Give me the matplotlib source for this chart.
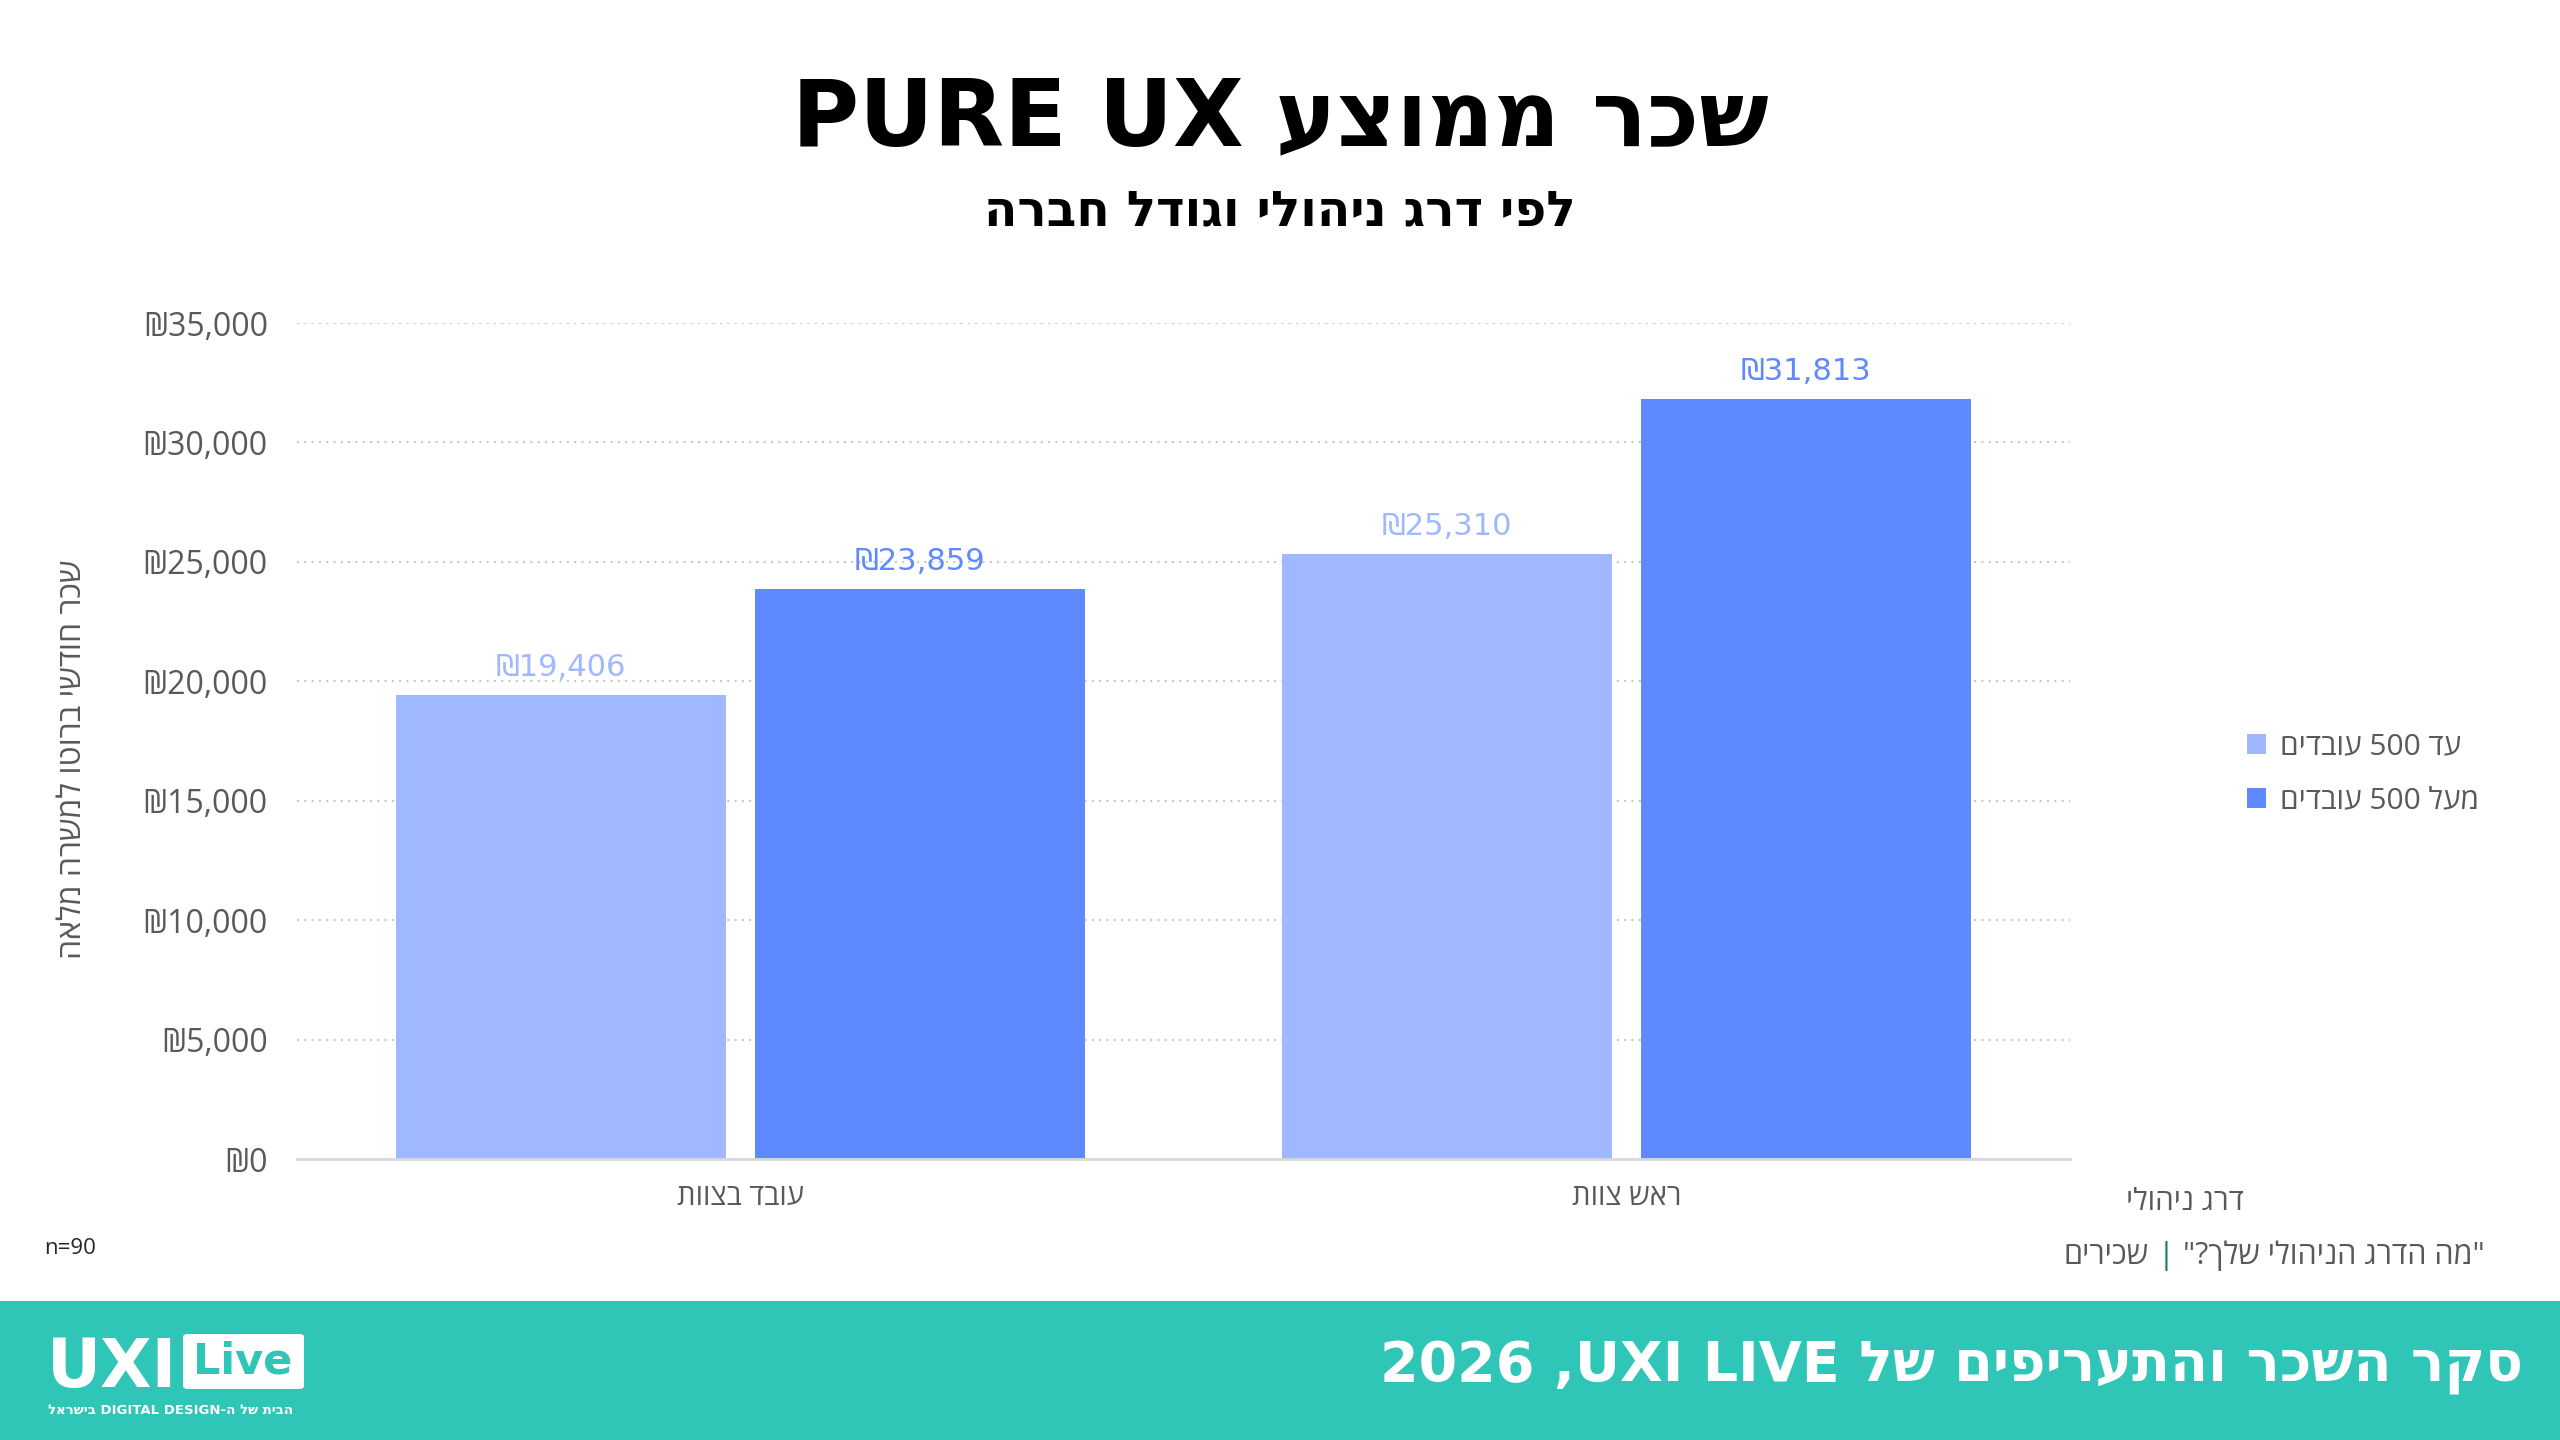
import re
import numpy as np
import matplotlib
matplotlib.use("Agg")
import matplotlib.pyplot as plt
from matplotlib.patches import Patch, FancyBboxPatch, Rectangle
from matplotlib.ticker import FuncFormatter, MultipleLocator

# ---------------- data ----------------
categories = ["עובד בצוות", "ראש צוות"]
series_names = ["עד 500 עובדים", "מעל 500 עובדים"]
small_company = [19406, 25310]
large_company = [23859, 31813]
y_max = 35000
y_step = 5000

title = "שכר ממוצע PURE UX"
subtitle = "לפי דרג ניהולי וגודל חברה"
y_label = "שכר חודשי ברוטו למשרה מלאה"
x_label = "דרג ניהולי"
question = "\"מה הדרג הניהולי שלך?\""
population = "שכירים"
n_text = "n=90"
footer_title = "סקר השכר והתעריפים של UXI LIVE, 2026"
logo_tag = "הבית של ה-DIGITAL DESIGN בישראל"

LIGHT = "#A0B8FF"
DARK = "#5F8AFF"
TEAL = "#2FC5B7"
GRAY = "#595959"

W, H = 2560, 1440


def vis(s):
    """Simple visual reordering of a right-to-left string (Hebrew) for matplotlib."""
    toks = re.findall(r"[A-Za-z0-9]+(?: [A-Za-z0-9]+)*|.", s)
    return "".join(reversed(toks))


FONT = ["Open Sans", "DejaVu Sans"]
NARROW = ["Liberation Sans Narrow", "DejaVu Sans"]
BOLD = ["DejaVu Sans"]
plt.rcParams["font.family"] = FONT

fig = plt.figure(figsize=(W / 100, H / 100), dpi=100)
fig.patch.set_facecolor("white")

ax = fig.add_axes([297 / W, 1 - 1159 / H, (2070 - 297) / W, (1159 - 323) / H])
x = np.arange(len(categories))
width = 0.372
off = 0.2025
b1 = ax.bar(x - off, small_company, width, color=LIGHT, zorder=3)
b2 = ax.bar(x + off, large_company, width, color=DARK, zorder=3)

ax.set_xlim(-0.5, len(categories) - 0.5)
ax.set_ylim(0, y_max)
ax.yaxis.set_major_locator(MultipleLocator(y_step))
ax.yaxis.set_major_formatter(FuncFormatter(lambda v, p: f"₪{v:,.0f}"))
ax.set_axisbelow(True)
ax.grid(axis="y", linestyle=(0, (1, 2.5)), color="#c8c8c8", linewidth=1.5, zorder=0)
for s in ["top", "right", "left"]:
    ax.spines[s].set_visible(False)
ax.spines["bottom"].set_color("#d9d9d9")
ax.spines["bottom"].set_linewidth(2)
ax.spines["bottom"].set_zorder(4)
ax.set_xticks(x, [vis(c) for c in categories])
ax.tick_params(axis="y", length=0, labelsize=23, labelcolor=GRAY, pad=21)
ax.tick_params(axis="x", length=0, labelsize=21, labelcolor=GRAY, pad=17)

for bars, col in ((b1, LIGHT), (b2, DARK)):
    for rect in bars:
        v = rect.get_height()
        ax.annotate(f"₪{v:,.0f}", (rect.get_x() + rect.get_width() / 2, v),
                    xytext=(0, 14), textcoords="offset points",
                    ha="center", va="baseline", color=col, fontsize=22,
                    family=NARROW)

# y label
fig.text(73 / W, 1 - 759 / H, vis(y_label), rotation=90, ha="center", va="center",
         fontsize=23, color=GRAY)

# titles
fig.text(0.5, 1 - 119 / H, vis(title), ha="center", va="center", fontsize=66,
         fontweight="bold", family=BOLD, color="black")
fig.text(0.5, 1 - 212 / H, vis(subtitle), ha="center", va="center", fontsize=35,
         fontweight="bold", family=BOLD, color="black")

# legend
handles = [Patch(facecolor=LIGHT, edgecolor="none"), Patch(facecolor=DARK, edgecolor="none")]
fig.legend(handles, [vis(s) for s in series_names], loc="center left",
           bbox_to_anchor=(2220 / W, 1 - 774 / H), frameon=False, fontsize=21.5,
           handlelength=0.65, handleheight=0.65, handletextpad=0.45, labelspacing=0.85,
           labelcolor=GRAY)

# x axis title and source line
fig.text(2185 / W, 1 - 1203 / H, vis(x_label), ha="center", va="center", fontsize=21.5,
         color=GRAY)

renderer = fig.canvas.get_renderer()
ysrc = 1 - 1256 / H
t1 = fig.text(2485 / W, ysrc, vis(question), ha="right", va="center", fontsize=22, color=GRAY)
bb = t1.get_window_extent(renderer)
t2 = fig.text((bb.x0 - 9) / W, ysrc, "|", ha="right", va="center", fontsize=22, color="#1F7A6E")
bb2 = t2.get_window_extent(renderer)
fig.text((bb2.x0 - 9) / W, ysrc, vis(population), ha="right", va="center", fontsize=22, color=GRAY)

fig.text(70 / W, 1 - 1248 / H, n_text, ha="center", va="center", fontsize=16, color="#262626")

# footer band
fig.add_artist(Rectangle((0, 0), 1, 139 / H, transform=fig.transFigure,
                         facecolor=TEAL, edgecolor="none", zorder=0))
fig.text(2523 / W, 1 - 1368 / H, vis(footer_title), ha="right", va="center",
         fontsize=40, fontweight="bold", family=BOLD, color="white")

# logo
fig.text(47 / W, 1 - 1387 / H, "UXI", ha="left", va="baseline", fontsize=48,
         fontweight="bold", family=NARROW, color="white")
fig.add_artist(FancyBboxPatch((183 / W, 1 - 1389 / H), 121 / W, 55 / H,
                              boxstyle="round,pad=0,rounding_size=0.002",
                              transform=fig.transFigure, facecolor="white",
                              edgecolor="none", zorder=2))
fig.text(243 / W, 1 - 1361 / H, "Live", ha="center", va="center", fontsize=31,
         fontweight="bold", family=NARROW, color=TEAL, zorder=3)
fig.text(48 / W, 1 - 1411 / H, vis(logo_tag), ha="left", va="center", fontsize=9.5,
         fontweight="bold", family=BOLD, color="white")

fig.savefig("out.png", dpi=100)
